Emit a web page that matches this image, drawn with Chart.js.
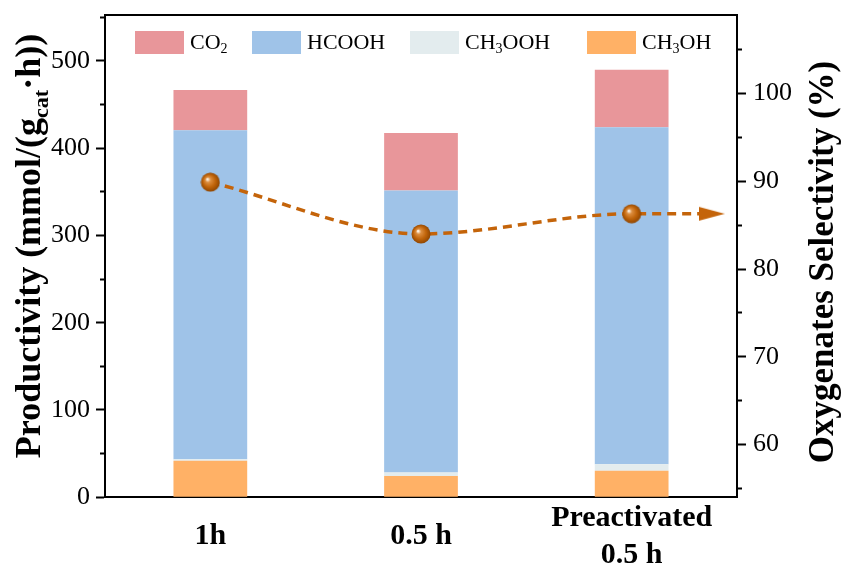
<!DOCTYPE html>
<html>
<head>
<meta charset="utf-8">
<script src="https://cdn.jsdelivr.net/npm/chart.js@4.4.1/dist/chart.umd.min.js"></script>
<style>
html, body { margin: 0; padding: 0; background: #fff; }
#wrap { width: 845px; height: 576px; }
</style>
</head>
<body>
<div id="wrap"><canvas id="prodChart" width="845" height="576"></canvas></div>
<script>
// data
var categories = ['1h', '0.5 h', ['Preactivated', '0.5 h']];
var ch3ohValues = [42, 24.5, 30.5];
var ch3oohValues = [1.5, 3.8, 7.3];
var hcoohValues = [377, 323, 386];
var co2Values = [46, 66, 66];
var selectivityX = [0, 1, 2, 2.38];          // last point = arrow head
var selectivityValues = [89.9, 84.0, 86.3, 86.3];

var leftTicks = [0, 100, 200, 300, 400, 500];
var leftMinorTicks = [50, 150, 250, 350, 450, 550];
var rightTicks = [60, 70, 80, 90, 100];
var rightMinorTicks = [55, 65, 75, 85, 95, 105];

var SERIF = '"Liberation Serif", "Times New Roman", serif';
var lineColor = '#C4640A';

/****************************************************** markers **************************************/
function makeBall() {
    var c = document.createElement('canvas');
    c.width = 20; c.height = 20;
    var g = c.getContext('2d');
    var grad = g.createRadialGradient(7, 7, 0.5, 10, 10, 10);
    grad.addColorStop(0, '#FFF6E8');
    grad.addColorStop(0.22, '#DC8E40');
    grad.addColorStop(0.6, '#C0640A');
    grad.addColorStop(1, '#8A4300');
    g.fillStyle = grad;
    g.beginPath();
    g.arc(10, 10, 9.5, 0, Math.PI * 2);
    g.fill();
    return c;
}
function makeArrow() {
    var c = document.createElement('canvas');
    c.width = 26; c.height = 16;
    var g = c.getContext('2d');
    g.fillStyle = lineColor;
    g.beginPath();
    g.moveTo(0, 1);
    g.lineTo(26, 8);
    g.lineTo(0, 15);
    g.closePath();
    g.fill();
    return c;
}
var ball = makeBall();
var arrow = makeArrow();

/****************************************************** text helpers **************************************/
// draws text where digits become subscripts (CO2, CH3OH ...)
function drawChem(ctx, text, x, y, size) {
    var i, ch;
    ctx.textBaseline = 'middle';
    ctx.textAlign = 'left';
    for (i = 0; i < text.length; i++) {
        ch = text[i];
        if (/[0-9]/.test(ch)) {
            ctx.font = Math.round(size * 0.62) + 'px ' + SERIF;
            ctx.fillText(ch, x, y + size * 0.3);
        } else {
            ctx.font = size + 'px ' + SERIF;
            ctx.fillText(ch, x, y);
        }
        x += ctx.measureText(ch).width;
    }
}
// rotated (-90) title made of pieces, some subscript
function drawVerticalTitle(ctx, parts, cx, cy, size) {
    var total = 0, i, p, f;
    ctx.save();
    ctx.translate(cx, cy);
    ctx.rotate(-Math.PI / 2);
    ctx.textBaseline = 'middle';
    ctx.textAlign = 'left';
    for (i = 0; i < parts.length; i++) {
        p = parts[i];
        f = p.sub ? Math.round(size * 0.62) : size;
        ctx.font = 'bold ' + f + 'px ' + SERIF;
        p.w = ctx.measureText(p.t).width;
        total += p.w;
    }
    var x = -total / 2;
    ctx.fillStyle = '#000';
    for (i = 0; i < parts.length; i++) {
        p = parts[i];
        f = p.sub ? Math.round(size * 0.62) : size;
        ctx.font = 'bold ' + f + 'px ' + SERIF;
        ctx.fillText(p.t, x, p.sub ? size * 0.32 : 0);
        x += p.w;
    }
    ctx.restore();
}

var extrasPlugin = {
    id: 'extras',
    afterDraw: function (chart) {
        var ctx = chart.ctx;
        var area = chart.chartArea;
        // legend inside the frame
        var order = [3, 2, 1, 0];
        var boxX = [30, 147, 305, 482];
        ctx.save();
        for (var i = 0; i < order.length; i++) {
            var ds = chart.data.datasets[order[i]];
            var bx = area.left + boxX[i];
            var by = area.top + 16.5;
            ctx.fillStyle = ds.backgroundColor;
            ctx.fillRect(bx, by, 49, 23);
            ctx.fillStyle = '#000';
            drawChem(ctx, ds.label, bx + 55, by + 12, 22);
        }
        ctx.restore();
        // axis titles
        drawVerticalTitle(ctx, [{t: 'Productivity (mmol/(g'}, {t: 'cat', sub: true}, {t: '\u00B7h))'}],
            area.left - 74, 246, 36);
        drawVerticalTitle(ctx, [{t: 'Oxygenates Selectivity (%)'}], area.right + 87, 262, 35);
    }
};

/****************************************************** chart **************************************/
function tickList(arr) {
    return function (axis) {
        axis.ticks = arr.map(function (v) { return {value: v}; });
    };
}
function fixSize(w, h) {
    return function (s) {
        if (w !== null) s.width = w;
        if (h !== null) s.height = h;
        s.paddingTop = 0; s.paddingBottom = 0; s.paddingLeft = 0; s.paddingRight = 0;
    };
}

var ctx = document.getElementById('prodChart').getContext('2d');
var chart = new Chart(ctx, {
    type: 'bar',
    data: {
        labels: categories,
        datasets: [{
            label: 'CH3OH',
            data: ch3ohValues,
            backgroundColor: '#FFB166'
        }, {
            label: 'CH3OOH',
            data: ch3oohValues,
            backgroundColor: '#E3ECEE'
        }, {
            label: 'HCOOH',
            data: hcoohValues,
            backgroundColor: '#9FC3E8'
        }, {
            label: 'CO2',
            data: co2Values,
            backgroundColor: '#E8969A'
        }, {
            type: 'line',
            label: 'Selectivity',
            data: selectivityX.map(function (x, i) { return {x: x, y: selectivityValues[i]}; }),
            xAxisID: 'xTop', yAxisID: 'y2',
            borderColor: lineColor,
            borderWidth: 3.5,
            borderDash: [9, 6],
            cubicInterpolationMode: 'monotone',
            pointStyle: [ball, ball, ball, arrow],
            pointRadius: 9,
            order: -1
        }]
    },
    options: {
        responsive: false,
        animation: false,
        layout: {padding: {top: 14.5, left: 0, right: 0, bottom: 0}},
        plugins: {legend: {display: false}, tooltip: {enabled: false}},
        datasets: {bar: {grouped: false, categoryPercentage: 1, barPercentage: 0.35, borderWidth: 0, xAxisID: 'x', yAxisID: 'y'}},
        scales: {
            x: {
                type: 'category', position: 'bottom', stacked: true, offset: true,
                grid: {display: false},
                border: {display: true, color: '#000', width: 2},
                ticks: {
                    color: '#000', padding: 13, crossAlign: 'center', maxRotation: 0, autoSkip: false,
                    font: {family: SERIF, size: 30, weight: 'bold', lineHeight: 1.22}
                },
                afterFit: fixSize(null, 78.7)
            },
            xTop: {
                type: 'linear', position: 'top', min: -0.5, max: 2.5, offset: false,
                grid: {display: false, offset: false}, ticks: {display: false},
                border: {display: true, color: '#000', width: 2},
                afterFit: fixSize(null, 0)
            },
            y: {
                type: 'linear', position: 'left', weight: 1, stacked: true, min: 0, max: 553,
                afterBuildTicks: tickList(leftTicks),
                grid: {display: true, drawOnChartArea: false, drawTicks: true, tickLength: 9, tickColor: '#000', tickWidth: 2},
                border: {display: true, color: '#000', width: 2},
                ticks: {color: '#000', padding: 6, font: {family: SERIF, size: 26}},
                afterFit: fixSize(105, null)
            },
            yMinor: {
                type: 'linear', position: 'left', weight: 0, min: 0, max: 553,
                afterBuildTicks: tickList(leftMinorTicks),
                grid: {display: true, drawOnChartArea: false, drawTicks: true, tickLength: 5, tickColor: '#000', tickWidth: 2},
                border: {display: false},
                ticks: {display: false},
                afterFit: fixSize(0, null)
            },
            y2: {
                type: 'linear', position: 'right', weight: 1, min: 54, max: 109,
                afterBuildTicks: tickList(rightTicks),
                grid: {display: true, drawOnChartArea: false, drawTicks: true, tickLength: 9, tickColor: '#000', tickWidth: 2},
                border: {display: true, color: '#000', width: 2},
                ticks: {color: '#000', padding: 7, font: {family: SERIF, size: 26}},
                afterFit: fixSize(108, null)
            },
            y2Minor: {
                type: 'linear', position: 'right', weight: 0, min: 54, max: 109,
                afterBuildTicks: tickList(rightMinorTicks),
                grid: {display: true, drawOnChartArea: false, drawTicks: true, tickLength: 5, tickColor: '#000', tickWidth: 2},
                border: {display: false},
                ticks: {display: false},
                afterFit: fixSize(0, null)
            }
        }
    },
    plugins: [extrasPlugin]
});
</script>
</body>
</html>
